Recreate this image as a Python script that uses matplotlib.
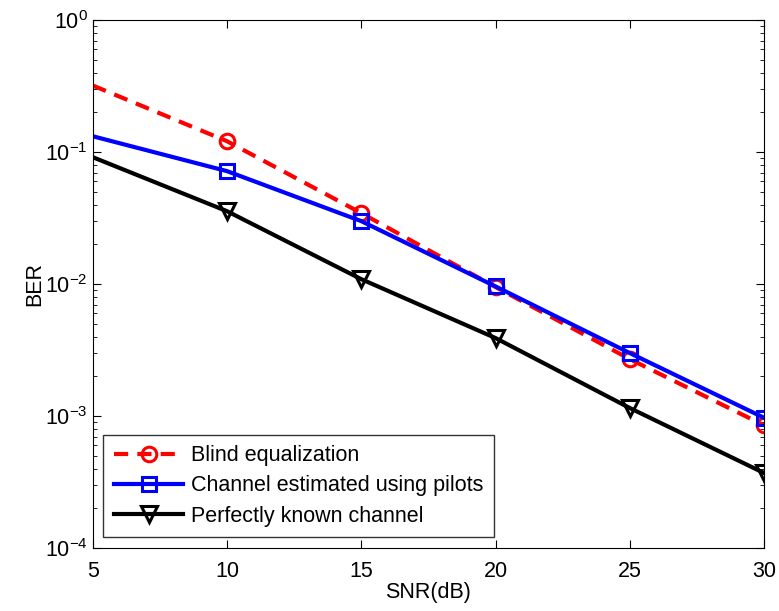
import numpy as np
import matplotlib
matplotlib.use("Agg")
import matplotlib.pyplot as plt

plt.rcParams['font.family'] = ['Liberation Sans', 'DejaVu Sans']

snr = [5, 10, 15, 20, 25, 30]

# BER values
ber_blind = [0.32, 0.121, 0.0345, 0.0095, 0.0027, 0.00085]
ber_pilots = [0.132, 0.0718, 0.030, 0.0096, 0.0030, 0.00097]
ber_known = [0.0916, 0.0357, 0.0109, 0.0039, 0.00115, 0.00037]

labels = ["Blind equalization",
          "Channel estimated using pilots",
          "Perfectly known channel"]

fs = 15.5
fig = plt.figure(figsize=(7.79, 6.11), dpi=100)
ax = fig.add_axes([0.119, 0.103, 0.862, 0.864])

lw = 3.0
dash = (3.4, 2.2)
ax.plot(snr, ber_blind, '--', color='red', lw=lw, dashes=dash)
ax.plot(snr[1:], ber_blind[1:], 'o', color='red', mfc='none', ms=10.5, mew=2.2)
ax.plot(snr, ber_pilots, '-', color='blue', lw=lw)
ax.plot(snr[1:], ber_pilots[1:], 's', color='blue', mfc='none', ms=9.5, mew=2.2)
ax.plot(snr, ber_known, '-', color='black', lw=lw)
ax.plot(snr[1:], ber_known[1:], 'v', color='black', mfc='none', ms=12, mew=2.2)

# legend proxies
h1, = ax.plot([], [], '--o', color='red', mfc='none', ms=10.5, mew=2.2, lw=lw, dashes=dash)
h2, = ax.plot([], [], '-s', color='blue', mfc='none', ms=9.5, mew=2.2, lw=lw)
h3, = ax.plot([], [], '-v', color='black', mfc='none', ms=12, mew=2.2, lw=lw)
leg = ax.legend([h1, h2, h3], labels, loc='lower left', fontsize=fs,
                frameon=True, fancybox=False, edgecolor='black',
                handlelength=3.2, borderaxespad=0.5, labelspacing=0.42,
                handletextpad=0.37, borderpad=0.5)
leg.get_frame().set_linewidth(1.0)

ax.set_yscale('log')
ax.set_xlim(5, 30)
ax.set_ylim(1e-4, 1)
ax.set_xticks([5, 10, 15, 20, 25, 30])
ax.set_yticks([1e-4, 1e-3, 1e-2, 1e-1, 1])
ax.tick_params(which='both', direction='in', top=True, right=True, labelsize=fs)
ax.tick_params(which='major', length=6)
ax.tick_params(which='minor', length=3)
ax.tick_params(axis='x', pad=9)
ax.set_xlabel("SNR(dB)", fontsize=fs, labelpad=0)
ax.set_ylabel("BER", fontsize=fs, labelpad=0)

fig.savefig("out.png", dpi=100)
